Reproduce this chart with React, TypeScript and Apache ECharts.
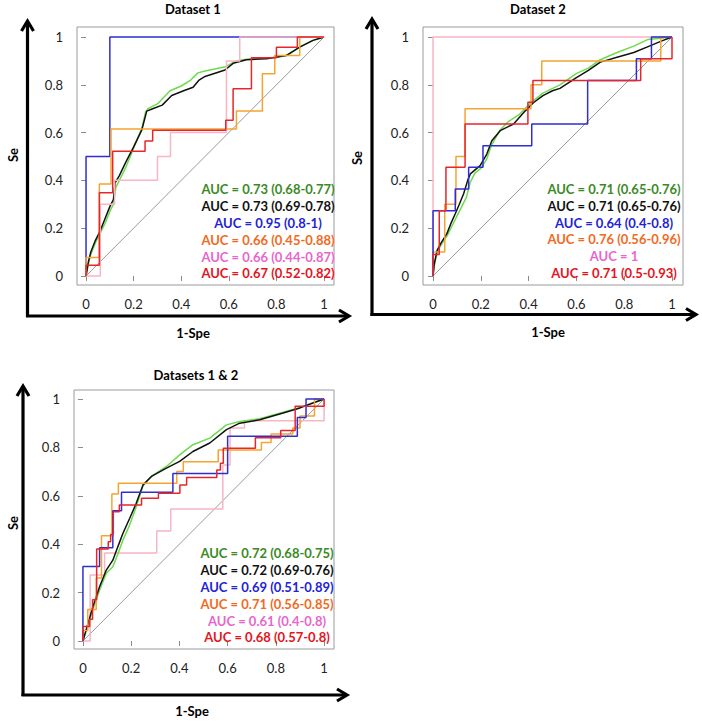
import React, { useEffect, useRef } from "react";
import * as echarts from "echarts";

// ---------- DATA ----------
const TICKS = [0, 0.2, 0.4, 0.6, 0.8, 1];
const TITLES = ["Dataset 1", "Dataset 2", "Datasets 1 & 2"];
const X_NAME = "1-Spe";
const Y_NAME = "Se";
const DIAG: number[][] = [[0, 0], [1, 1]];

// Dataset 1
const d1Green: number[][] = [[0,0],[0.01,0.05],[0.02,0.09],[0.04,0.14],[0.06,0.18],[0.08,0.22],[0.1,0.27],[0.115,0.3],[0.125,0.37],[0.14,0.4],[0.165,0.45],[0.19,0.51],[0.21,0.56],[0.235,0.62],[0.25,0.685],[0.26,0.7],[0.3,0.72],[0.353,0.775],[0.4,0.795],[0.44,0.82],[0.47,0.85],[0.5,0.858],[0.587,0.876],[0.63,0.9],[0.674,0.907],[0.76,0.912],[0.8,0.915],[0.85,0.925],[0.9,0.96],[0.95,0.985],[1,1]];
const d1Black: number[][] = [[0,0],[0.01,0.06],[0.02,0.1],[0.04,0.15],[0.06,0.19],[0.08,0.24],[0.1,0.29],[0.115,0.32],[0.122,0.39],[0.14,0.42],[0.164,0.47],[0.2,0.54],[0.234,0.61],[0.255,0.69],[0.28,0.7],[0.32,0.715],[0.36,0.755],[0.41,0.775],[0.45,0.79],[0.475,0.82],[0.5,0.835],[0.584,0.862],[0.618,0.89],[0.674,0.905],[0.758,0.909],[0.842,0.923],[0.898,0.958],[0.954,0.986],[1,1]];
const d1Blue: number[][] = [[0,0],[0,0.5],[0.1,0.5],[0.1,1],[1,1]];
const d1Orange: number[][] = [[0,0],[0,0.077],[0.056,0.077],[0.056,0.385],[0.105,0.385],[0.105,0.615],[0.632,0.615],[0.632,0.69],[0.741,0.69],[0.741,0.846],[0.793,0.846],[0.793,0.923],[0.898,0.923],[0.898,1],[1,1]];
const d1Pink: number[][] = [[0,0],[0.06,0],[0.06,0.3],[0.12,0.3],[0.12,0.4],[0.3,0.4],[0.3,0.5],[0.355,0.5],[0.355,0.6],[0.59,0.6],[0.59,0.9],[0.646,0.9],[0.646,1],[1,1]];
const d1Red: number[][] = [[0,0],[0,0.045],[0.056,0.045],[0.056,0.348],[0.112,0.348],[0.112,0.522],[0.248,0.522],[0.248,0.565],[0.28,0.565],[0.28,0.61],[0.587,0.61],[0.587,0.652],[0.618,0.652],[0.618,0.783],[0.695,0.783],[0.695,0.913],[0.8,0.913],[0.8,0.957],[0.888,0.957],[0.888,1],[1,1]];
const auc1: string[] = ["AUC = 0.73 (0.68-0.77)", "AUC = 0.73 (0.69-0.78)", "AUC = 0.95 (0.8-1)", "AUC = 0.66 (0.45-0.88)", "AUC = 0.66 (0.44-0.87)", "AUC = 0.67 (0.52-0.82)"];

// Dataset 2
const d2Green: number[][] = [[0,0],[0.005,0.04],[0.017,0.1],[0.04,0.14],[0.06,0.17],[0.08,0.21],[0.1,0.25],[0.12,0.29],[0.14,0.33],[0.155,0.39],[0.175,0.43],[0.2,0.45],[0.225,0.49],[0.245,0.548],[0.28,0.61],[0.315,0.646],[0.36,0.675],[0.406,0.722],[0.46,0.765],[0.531,0.8],[0.601,0.848],[0.65,0.87],[0.7,0.905],[0.77,0.935],[0.84,0.962],[0.9,0.99],[0.95,0.995],[1,1]];
const d2Black: number[][] = [[0,0],[0.005,0.05],[0.017,0.107],[0.035,0.14],[0.058,0.177],[0.075,0.22],[0.093,0.26],[0.11,0.3],[0.128,0.344],[0.145,0.4],[0.156,0.427],[0.197,0.462],[0.225,0.51],[0.246,0.566],[0.281,0.608],[0.337,0.636],[0.386,0.691],[0.42,0.725],[0.46,0.755],[0.5,0.775],[0.531,0.785],[0.6,0.83],[0.65,0.86],[0.7,0.895],[0.77,0.915],[0.84,0.935],[0.9,0.96],[0.955,0.983],[1,1]];
const d2Blue: number[][] = [[0,0],[0,0.273],[0.093,0.273],[0.093,0.364],[0.149,0.364],[0.149,0.455],[0.209,0.455],[0.209,0.545],[0.413,0.545],[0.413,0.636],[0.647,0.636],[0.647,0.818],[0.851,0.818],[0.851,0.909],[0.914,0.909],[0.914,1],[1,1]];
const d2Orange: number[][] = [[0,0],[0,0.1],[0.049,0.1],[0.049,0.3],[0.096,0.3],[0.096,0.5],[0.134,0.5],[0.134,0.7],[0.41,0.7],[0.41,0.8],[0.455,0.8],[0.455,0.9],[0.953,0.9],[0.953,1],[1,1]];
const d2Pink: number[][] = [[0,0],[0,1],[1,1]];
const d2Red: number[][] = [[0,0],[0,0.09],[0.026,0.09],[0.026,0.273],[0.054,0.273],[0.054,0.455],[0.134,0.455],[0.134,0.636],[0.397,0.636],[0.397,0.727],[0.418,0.727],[0.418,0.818],[0.869,0.818],[0.869,0.909],[1,0.909],[1,1]];
const auc2: string[] = ["AUC = 0.71 (0.65-0.76)", "AUC = 0.71 (0.65-0.76)", "AUC = 0.64 (0.4-0.8)", "AUC = 0.76 (0.56-0.96)", "AUC = 1", "AUC = 0.71 (0.5-0.93)"];

// Datasets 1 & 2
const d3Green: number[][] = [[0,0],[0.021,0.065],[0.041,0.13],[0.069,0.21],[0.097,0.28],[0.124,0.307],[0.145,0.36],[0.166,0.417],[0.194,0.48],[0.221,0.555],[0.249,0.64],[0.284,0.68],[0.346,0.721],[0.401,0.769],[0.456,0.811],[0.526,0.838],[0.595,0.893],[0.65,0.907],[0.733,0.918],[0.83,0.945],[0.9,0.965],[0.954,0.985],[1,1]];
const d3Black: number[][] = [[0,0],[0.021,0.072],[0.041,0.141],[0.069,0.224],[0.097,0.293],[0.124,0.334],[0.145,0.39],[0.166,0.445],[0.194,0.507],[0.221,0.569],[0.249,0.645],[0.284,0.68],[0.346,0.714],[0.401,0.742],[0.456,0.783],[0.526,0.818],[0.595,0.873],[0.65,0.9],[0.733,0.914],[0.83,0.942],[0.9,0.963],[0.954,0.983],[1,1]];
const d3Blue: number[][] = [[0,0],[0,0.308],[0.069,0.308],[0.069,0.385],[0.124,0.385],[0.124,0.538],[0.16,0.538],[0.16,0.615],[0.373,0.615],[0.373,0.692],[0.6,0.692],[0.6,0.846],[0.889,0.846],[0.889,0.923],[0.925,0.923],[0.925,1],[1,1]];
const d3Orange: number[][] = [[0,0],[0,0.043],[0.02,0.043],[0.02,0.13],[0.055,0.13],[0.055,0.26],[0.077,0.26],[0.077,0.435],[0.12,0.435],[0.12,0.607],[0.147,0.607],[0.147,0.652],[0.389,0.652],[0.389,0.7],[0.416,0.7],[0.416,0.741],[0.561,0.741],[0.561,0.789],[0.74,0.789],[0.74,0.82],[0.78,0.82],[0.78,0.855],[0.87,0.855],[0.87,0.88],[0.9,0.88],[0.9,0.93],[0.96,0.93],[0.96,1],[1,1]];
const d3Pink: number[][] = [[0,0],[0.03,0],[0.03,0.273],[0.09,0.273],[0.09,0.364],[0.306,0.364],[0.306,0.455],[0.364,0.455],[0.364,0.545],[0.58,0.545],[0.58,0.727],[0.61,0.727],[0.61,0.88],[0.67,0.88],[0.67,0.91],[1,0.91],[1,1]];
const d3Red: number[][] = [[0,0],[0,0.06],[0.028,0.06],[0.028,0.09],[0.04,0.09],[0.04,0.17],[0.057,0.17],[0.057,0.38],[0.105,0.38],[0.105,0.41],[0.115,0.41],[0.115,0.44],[0.126,0.44],[0.126,0.534],[0.151,0.534],[0.151,0.562],[0.243,0.562],[0.243,0.59],[0.313,0.59],[0.313,0.61],[0.402,0.61],[0.402,0.645],[0.43,0.645],[0.43,0.676],[0.555,0.676],[0.555,0.707],[0.57,0.707],[0.57,0.734],[0.582,0.734],[0.582,0.796],[0.715,0.796],[0.715,0.84],[0.82,0.84],[0.82,0.87],[0.88,0.87],[0.88,0.97],[1,0.97],[1,1]];
const auc3: string[] = ["AUC = 0.72 (0.68-0.75)", "AUC = 0.72 (0.69-0.76)", "AUC = 0.69 (0.51-0.89)", "AUC = 0.71 (0.56-0.85)", "AUC = 0.61 (0.4-0.8)", "AUC = 0.68 (0.57-0.8)"];

// ---------- STYLE / LAYOUT ----------
const LINE_COLORS: Record<string, string> = {
  green: "#6cdc4c",
  black: "#111111",
  blue: "#2e2ed2",
  orange: "#f5a431",
  pink: "#f7b5c5",
  red: "#e6262b",
};
const TEXT_COLORS = ["#3a8a26", "#111111", "#2222d8", "#f26a22", "#e866cc", "#e4141c"];
const FONT = 'Lato, "Open Sans", sans-serif';

const PANELS = [
  { grid: { left: 77, top: 27, width: 257, height: 258 }, xr: [-0.038, 1.042], yr: [-0.038, 1.042],
    curves: { green: d1Green, black: d1Black, blue: d1Blue, orange: d1Orange, pink: d1Pink, red: d1Red },
    order: ["green", "black", "blue", "orange", "pink", "red"], auc: auc1,
    aucX: 268, aucY: 189.3,
    vArrow: { x: 27.5, top: 20, bottom: 317 }, hArrow: { y: 316, left: 26, right: 350 },
    title: { x: 193, y: 9 }, se: { x: 13, y: 155 }, spe: { x: 193, y: 333 } },
  { grid: { left: 423, top: 27, width: 260, height: 258 }, xr: [-0.042, 1.046], yr: [-0.038, 1.042],
    curves: { green: d2Green, black: d2Black, blue: d2Blue, orange: d2Orange, pink: d2Pink, red: d2Red },
    order: ["pink", "green", "black", "orange", "blue", "red"], auc: auc2,
    aucX: 614, aucY: 189,
    vArrow: { x: 372, top: 18, bottom: 316 }, hArrow: { y: 314.5, left: 370.5, right: 697 },
    title: { x: 538, y: 9 }, se: { x: 357, y: 158 }, spe: { x: 548, y: 332 } },
  { grid: { left: 74, top: 390, width: 260, height: 259 }, xr: [-0.037, 1.041], yr: [-0.033, 1.037],
    curves: { green: d3Green, black: d3Black, blue: d3Blue, orange: d3Orange, pink: d3Pink, red: d3Red },
    order: ["pink", "green", "black", "orange", "blue", "red"], auc: auc3,
    aucX: 267, aucY: 553.3,
    vArrow: { x: 23, top: 385, bottom: 696 }, hArrow: { y: 695, left: 21.5, right: 348 },
    title: { x: 196, y: 375 }, se: { x: 13, y: 523 }, spe: { x: 192, y: 711 } },
];

function buildOption() {
  const grid: any[] = [];
  const xAxis: any[] = [];
  const yAxis: any[] = [];
  const series: any[] = [];
  const graphic: any[] = [];

  PANELS.forEach((p, i) => {
    grid.push({ ...p.grid, show: true, borderColor: "#9a9a9a", borderWidth: 1, backgroundColor: "#fff" });
    const axisCommon = {
      type: "value",
      gridIndex: i,
      axisLine: { show: false },
      splitLine: { show: false },
      axisTick: { show: true, customValues: TICKS, length: 5, lineStyle: { color: "#8a8a8a", width: 1 } },
    };
    xAxis.push({
      ...axisCommon, min: p.xr[0], max: p.xr[1],
      axisLabel: { customValues: TICKS, margin: 12, color: "#222", fontFamily: FONT, fontSize: 13, formatter: (v: number) => String(v) },
    });
    yAxis.push({
      ...axisCommon, min: p.yr[0], max: p.yr[1],
      axisLabel: { customValues: TICKS, margin: 14, color: "#222", fontFamily: FONT, fontSize: 13, formatter: (v: number) => String(v) },
    });

    series.push({
      type: "line", xAxisIndex: i, yAxisIndex: i, data: DIAG, symbol: "none", silent: true,
      lineStyle: { color: "#9a9a9a", width: 1 }, z: 1,
    });
    p.order.forEach((name: string) => {
      series.push({
        type: "line", xAxisIndex: i, yAxisIndex: i, data: (p.curves as any)[name], symbol: "none",
        lineStyle: { color: LINE_COLORS[name], width: 1.5 }, z: 2,
      });
    });

    // AUC annotations
    p.auc.forEach((t: string, k: number) => {
      graphic.push({
        type: "text", x: p.aucX, y: p.aucY + k * 16.8, z: 10,
        style: { text: t, fill: TEXT_COLORS[k], font: `bold 13px ${FONT}`, textAlign: "center", textVerticalAlign: "middle" },
      });
    });

    // Titles and axis names
    graphic.push({
      type: "text", x: p.title.x, y: p.title.y,
      style: { text: TITLES[i], fill: "#000", font: `bold 13px ${FONT}`, textAlign: "center", textVerticalAlign: "middle" },
    });
    graphic.push({
      type: "text", x: p.se.x, y: p.se.y, rotation: Math.PI / 2,
      style: { text: Y_NAME, fill: "#000", font: `bold 13px ${FONT}`, textAlign: "center", textVerticalAlign: "middle" },
    });
    graphic.push({
      type: "text", x: p.spe.x, y: p.spe.y,
      style: { text: X_NAME, fill: "#000", font: `bold 13px ${FONT}`, textAlign: "center", textVerticalAlign: "middle" },
    });

    // Arrows
    const st = { stroke: "#000", lineWidth: 3.2, fill: null, lineJoin: "miter", lineCap: "butt" };
    graphic.push({ type: "line", shape: { x1: p.vArrow.x, y1: p.vArrow.bottom, x2: p.vArrow.x, y2: p.vArrow.top + 1 }, style: st });
    graphic.push({
      type: "polyline",
      shape: { points: [[p.vArrow.x - 6, p.vArrow.top + 11], [p.vArrow.x, p.vArrow.top + 1], [p.vArrow.x + 6, p.vArrow.top + 11]] },
      style: st,
    });
    graphic.push({ type: "line", shape: { x1: p.hArrow.left, y1: p.hArrow.y, x2: p.hArrow.right - 1, y2: p.hArrow.y }, style: st });
    graphic.push({
      type: "polyline",
      shape: { points: [[p.hArrow.right - 11, p.hArrow.y - 6], [p.hArrow.right - 1, p.hArrow.y], [p.hArrow.right - 11, p.hArrow.y + 6]] },
      style: st,
    });
  });

  return { animation: false, backgroundColor: "#fff", grid, xAxis, yAxis, series, graphic };
}

export default function App() {
  const ref = useRef<HTMLDivElement>(null);
  useEffect(() => {
    if (!ref.current) return;
    const chart = echarts.init(ref.current, undefined, { renderer: "svg" });
    chart.setOption(buildOption() as any);
    return () => chart.dispose();
  }, []);
  return <div ref={ref} style={{ position: "absolute", left: 0, top: 0, width: 702, height: 722 }} />;
}
